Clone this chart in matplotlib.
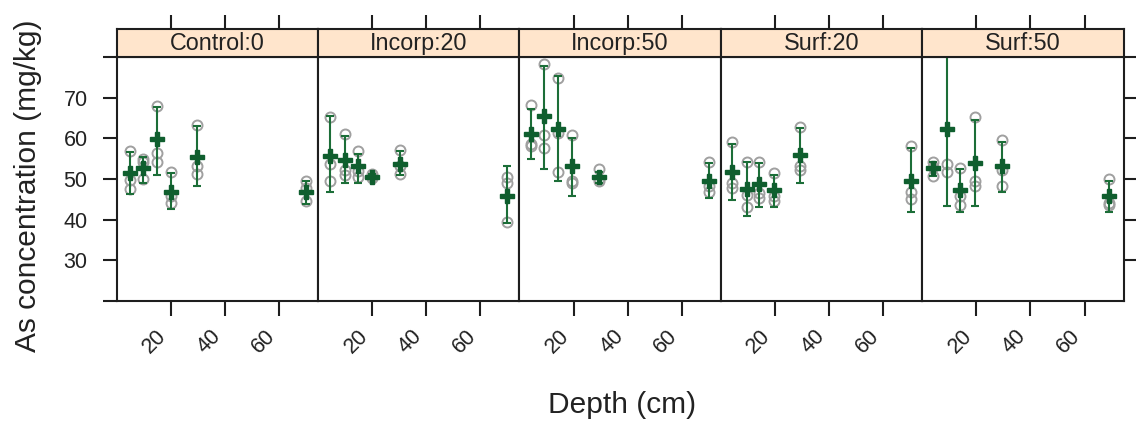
import matplotlib.pyplot as plt
from matplotlib.transforms import ScaledTranslation

plt.rcParams['font.family'] = ['Liberation Sans', 'DejaVu Sans']

panel_names = ["Control:0", "Incorp:20", "Incorp:50", "Surf:20", "Surf:50"]

# Control:0
ctrl_depth = [4.9, 9.8, 15.0, 19.9, 29.7, 70.1]
ctrl_mean = [51.4, 52.7, 59.8, 46.7, 55.3, 46.7]
ctrl_lo = [46.4, 49.1, 51.0, 42.6, 48.2, 43.8]
ctrl_hi = [56.6, 55.4, 67.7, 51.5, 63.1, 49.6]
ctrl_raw = [[57.0, 49.7, 47.5], [54.9, 54.1, 50.0], [68.0, 56.5, 54.3],
            [51.8, 45.7, 44.2], [63.3, 53.3, 51.3], [49.6, 47.8, 44.5]]

# Incorp:20
inc20_depth = [4.3, 10.1, 14.8, 19.9, 30.1, 69.9]
inc20_mean = [55.7, 54.7, 53.1, 50.6, 53.7, 45.9]
inc20_lo = [46.7, 49.1, 49.1, 50.0, 51.0, 39.1]
inc20_hi = [65.4, 60.5, 56.2, 51.2, 56.8, 53.1]
inc20_raw = [[65.2, 53.7, 49.4], [61.1, 52.3, 51.0], [56.8, 50.6, 51.9],
             [51.2, 50.2, 50.4], [57.2, 53.1, 51.2], [50.6, 49.0, 39.5]]

# Incorp:50
inc50_depth = [4.3, 9.2, 14.1, 19.3, 29.5, 70.1]
inc50_mean = [61.1, 65.4, 62.4, 53.1, 50.6, 49.6]
inc50_lo = [54.9, 52.4, 49.6, 45.7, 49.1, 45.3]
inc50_hi = [67.2, 77.7, 75.4, 60.2, 51.8, 53.9]
inc50_raw = [[68.3, 58.7, 58.0], [78.3, 60.9, 57.6], [74.9, 61.3, 51.8],
             [60.9, 49.4, 49.0], [52.4, 50.0, 49.6], [54.3, 48.2, 46.7]]

# Surf:20
surf20_depth = [4.3, 9.6, 14.2, 19.5, 29.3, 70.1]
surf20_mean = [51.6, 47.6, 48.7, 47.2, 55.8, 49.6]
surf20_lo = [44.9, 40.9, 43.0, 43.0, 49.1, 42.0]
surf20_hi = [58.7, 54.3, 53.9, 51.0, 62.5, 57.6]
surf20_raw = [[59.0, 49.0, 47.8], [54.3, 46.1, 43.2], [54.3, 46.5, 45.3],
              [51.5, 45.7, 44.5], [62.9, 53.1, 52.1], [58.2, 46.7, 45.0]]

# Surf:50
surf50_depth = [4.1, 9.2, 14.1, 19.6, 29.5, 69.2]
surf50_mean = [52.7, 62.4, 47.2, 53.9, 53.1, 45.9]
surf50_lo = [50.8, 43.4, 42.0, 43.4, 46.7, 42.0]
surf50_hi = [54.1, 81.4, 52.4, 64.4, 59.2, 49.6]
surf50_raw = [[54.3, 53.0, 50.8], [81.7, 53.7, 51.8], [52.8, 45.7, 43.6],
              [65.2, 49.6, 48.2], [59.7, 52.1, 48.4], [50.0, 44.2, 43.6]]

x_ticks = [20, 40, 60]
y_ticks = [20, 30, 40, 50, 60, 70, 80]
y_ticklabels = ['', '30', '40', '50', '60', '70', '']

depths = [ctrl_depth, inc20_depth, inc50_depth, surf20_depth, surf50_depth]
means = [ctrl_mean, inc20_mean, inc50_mean, surf20_mean, surf50_mean]
lows = [ctrl_lo, inc20_lo, inc50_lo, surf20_lo, surf50_lo]
highs = [ctrl_hi, inc20_hi, inc50_hi, surf20_hi, surf50_hi]
raws = [ctrl_raw, inc20_raw, inc50_raw, surf20_raw, surf50_raw]

W, H = 1136, 428
fig = plt.figure(figsize=(W / 100, H / 100), dpi=100)

left0 = 116.7
pw = 201.36
top = 57
bot = 301
strip_top = 29
edge = '#1e1e1e'
green = '#0f5e2e'
bar_green = '#1c6e38'
grey = '#a0a0a0'
txt = '#222222'
fs = 15.5
lw = 1.5

for i, name in enumerate(panel_names):
    x0 = (left0 + i * pw) / W
    ax = fig.add_axes([x0, 1 - bot / H, pw / W, (bot - top) / H])
    sax = fig.add_axes([x0, 1 - top / H, pw / W, (top - strip_top) / H])

    # raw replicates
    for d, vals in zip(depths[i], raws[i]):
        ax.plot([d] * len(vals), vals, 'o', ms=7.2, mfc='none', mec=grey, mew=1.4, zorder=2)
    # error bars
    m = means[i]
    yerr = [[a - b for a, b in zip(m, lows[i])], [b - a for a, b in zip(m, highs[i])]]
    ax.errorbar(depths[i], m, yerr=yerr, fmt='none', ecolor=bar_green, elinewidth=1.5,
                capsize=3, capthick=1.5, zorder=3)
    ax.plot(depths[i], m, 'P', ms=10.5, color=green, mec=green, zorder=4)

    ax.set_xlim(0, 74.4)
    ax.set_ylim(20, 80)
    for sp in ax.spines.values():
        sp.set_color(edge)
        sp.set_linewidth(lw)

    ax.set_xticks(x_ticks)
    ax.set_xticklabels([str(t) for t in x_ticks], rotation=45, ha='right', va='top',
                       fontsize=fs, color=txt)
    ax.tick_params(axis='x', direction='out', length=10.5, width=lw, color=edge, pad=7)
    for lab in ax.get_xticklabels():
        lab.set_transform(lab.get_transform() + ScaledTranslation(0.0, 0, fig.dpi_scale_trans))

    ax.set_yticks(y_ticks)
    if i == 0:
        ax.set_yticklabels(y_ticklabels, fontsize=fs, color=txt)
        ax.tick_params(axis='y', direction='out', length=10, width=lw, color=edge, pad=11)
    elif i == len(panel_names) - 1:
        ax.set_yticks(y_ticks[1:])
        ax.yaxis.tick_right()
        ax.tick_params(axis='y', direction='out', length=10, width=lw, color=edge,
                       labelright=False)
    else:
        ax.tick_params(axis='y', length=0, labelleft=False)

    # strip
    sax.set_facecolor('#ffe5cc')
    sax.set_xlim(0, 74.4)
    sax.set_ylim(0, 1)
    sax.set_xticks(x_ticks)
    sax.xaxis.tick_top()
    sax.tick_params(axis='x', direction='out', length=10, width=lw, color=edge, labeltop=False)
    sax.set_yticks([])
    for sp in sax.spines.values():
        sp.set_color(edge)
        sp.set_linewidth(lw)
    sax.text(0.5, 0.48, name, ha='center', va='center', fontsize=16.8, color=txt,
             transform=sax.transAxes)

fig.text(622 / W, 1 - 405 / H, 'Depth (cm)', ha='center', va='center', fontsize=21.5, color=txt)
fig.text(28 / W, 1 - 186 / H, 'As concentration (mg/kg)', ha='center', va='center',
         rotation=90, fontsize=21.5, color=txt)

fig.savefig('out.png', dpi=100)
